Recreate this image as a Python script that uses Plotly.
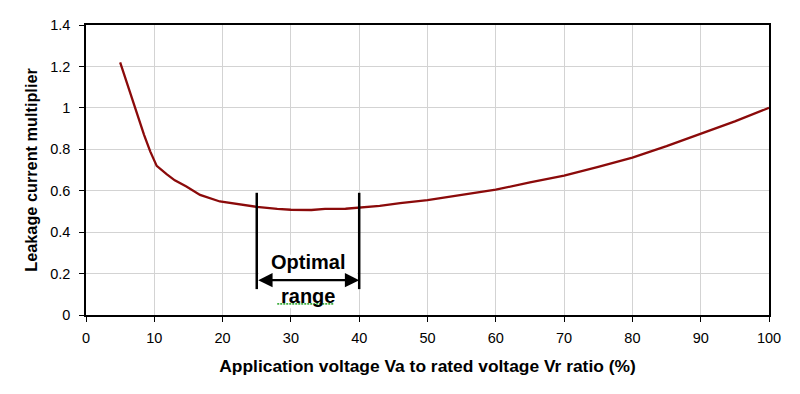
import plotly.graph_objects as go

# Data
ratio_pct = [5, 6, 7.3, 8.5, 9.4, 10.35, 11.8, 13, 14.7, 16.7, 19.6, 22, 25, 28, 30, 33, 35,
             38, 40, 43, 46, 50, 55, 60, 65, 70, 75, 80, 85, 90, 95, 100]
leak_mult = [1.22, 1.12, 0.98, 0.87, 0.79, 0.72, 0.68, 0.65, 0.62, 0.58, 0.548, 0.535, 0.522,
             0.512, 0.508, 0.507, 0.512, 0.513, 0.518, 0.527, 0.54, 0.555, 0.58, 0.605, 0.64,
             0.673, 0.715, 0.76, 0.815, 0.875, 0.935, 1.0]

opt_low, opt_high = 25, 40
bracket_top, bracket_bottom = 0.59, 0.125
arrow_y = 0.168
label1_y, label2_y = 0.255, 0.094
label_box_y = [0.033, 0.291]
squiggle_x = [28.0, 36.2]
squiggle_y = 0.054

x_ticks = list(range(0, 101, 10))
y_ticks = [0, 0.2, 0.4, 0.6, 0.8, 1.0, 1.2, 1.4]
y_ticktext = ["0", "0.2", "0.4", "0.6", "0.8", "1", "1.2", "1.4"]

FONT = "Liberation Sans, Arial, sans-serif"

fig = go.Figure()
fig.add_trace(go.Scatter(x=ratio_pct, y=leak_mult, mode="lines",
                         line=dict(color="#8B0A0A", width=2.3), hoverinfo="skip",
                         showlegend=False))

# spell-check squiggle under "range" seen in the reference
fig.add_trace(go.Scatter(x=squiggle_x, y=[squiggle_y, squiggle_y], mode="lines",
                         line=dict(color="#3fae3f", width=1.8, dash="2px,1px"),
                         hoverinfo="skip", showlegend=False))

# white text box of the label (hides grid lines behind it, stays under traces)
fig.add_shape(type="rect", x0=opt_low + 0.3, x1=opt_high - 0.3, y0=label_box_y[0],
              y1=label_box_y[1], xref="x", yref="y", layer="between",
              fillcolor="white", line=dict(width=0))

for xv in (opt_low, opt_high):
    fig.add_shape(type="line", x0=xv, x1=xv, y0=bracket_bottom, y1=bracket_top,
                  xref="x", yref="y", layer="above", line=dict(color="black", width=2.5))

fig.add_annotation(x=(opt_low + opt_high) / 2, y=label1_y, xref="x", yref="y",
                   text="<b>Optimal</b>", showarrow=False,
                   font=dict(family=FONT, size=20, color="black"))
fig.add_annotation(x=(opt_low + opt_high) / 2, y=label2_y, xref="x", yref="y",
                   text="<b>range</b>", showarrow=False,
                   font=dict(family=FONT, size=20, color="black"))

fig.add_annotation(x=opt_high, y=arrow_y, ax=opt_low, ay=arrow_y, xref="x", yref="y",
                   axref="x", ayref="y", text="", showarrow=True, arrowside="end+start",
                   arrowhead=2, arrowsize=1.3, arrowwidth=2.2, arrowcolor="black")

# page body has an 8px margin, so margins are offset accordingly
fig.update_layout(
    width=800, height=394,
    margin=dict(l=78, r=39, t=9, b=87),
    paper_bgcolor="white", plot_bgcolor="white",
    font=dict(family=FONT, size=14.5, color="black"),
    xaxis=dict(range=[0, 100], tickvals=x_ticks, showgrid=True, gridcolor="#d3d3d3",
               gridwidth=1, zeroline=False, showline=True, linecolor="black", linewidth=1.5,
               mirror=True, ticks="outside", ticklen=5, tickcolor="black",
               ticklabelstandoff=4,
               title=dict(text="<b>Application voltage Va to rated voltage Vr ratio (%)</b>",
                          font=dict(size=17.4), standoff=15)),
    yaxis=dict(range=[0, 1.4], tickvals=y_ticks, ticktext=y_ticktext, showgrid=True,
               gridcolor="#d3d3d3", gridwidth=1, zeroline=False, showline=True,
               linecolor="black", linewidth=1.5, mirror=True, ticks="outside", ticklen=5,
               tickcolor="black", ticklabelstandoff=6,
               title=dict(text="<b>Leakage current multiplier</b>", font=dict(size=16.3),
                          standoff=8)),
)

fig.write_html("out.html")
